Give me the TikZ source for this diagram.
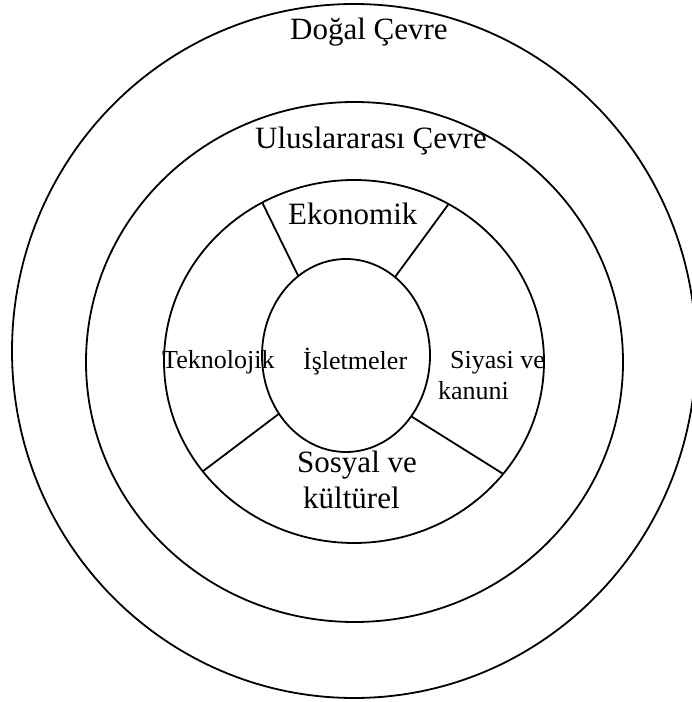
\documentclass[tikz,border=0pt]{standalone}
\usepackage{fontspec}
\setmainfont{Liberation Serif}
\usetikzlibrary{shapes.geometric}

\tikzset{
  ring/.style={ellipse, draw, line width=1.8pt, inner sep=0pt, outer sep=0pt},
  divider/.style={line width=1.8pt},
  bigtext/.style={anchor=base west, inner sep=0pt, font=\fontsize{31pt}{35pt}\selectfont},
  smalltext/.style={anchor=base west, inner sep=0pt, font=\fontsize{26pt}{30pt}\selectfont}
}

\begin{document}
\begin{tikzpicture}[x=1pt, y=1pt]
  \useasboundingbox (0,0) rectangle (692,702);

  % nested environments
  \node[ring, minimum width=684pt, minimum height=694pt] (dogal) at (354,351) {};
  \node[ring, minimum width=537pt, minimum height=520pt] (ulus) at (354.5,340) {};
  \node[ring, minimum width=380pt, minimum height=363pt] (genel) at (354,340.5) {};
  \node[ring, minimum width=168pt, minimum height=193pt] (isl) at (346,346.5) {};

  % sector dividers of the general environment ring
  \draw[divider] (isl.121.4) -- (genel.120.4);
  \draw[divider] (isl.58) -- (genel.59);
  \draw[divider] (isl.221.7) -- (genel.216.3);
  \draw[divider] (isl.317.5) -- (genel.323.4);

  % labels
  \node[bigtext] (tdogal) at (290,662) {Doğal Çevre};
  \node[bigtext] (tulus) at (255,553) {Uluslararası Çevre};
  \node[bigtext] (tekon) at (288,477) {Ekonomik};
  \node[bigtext] (tsos1) at (297,229) {Sosyal ve};
  \node[bigtext] (tsos2) at (303,193) {kültürel};
  \node[smalltext] (ttek) at (162,333) {Teknolojik};
  \node[smalltext] (tisl) at (303,332) {İşletmeler};
  \node[smalltext] (tsiy1) at (450,333) {Siyasi ve};
  \node[smalltext] (tsiy2) at (438,302) {kanuni};
\end{tikzpicture}
\end{document}
